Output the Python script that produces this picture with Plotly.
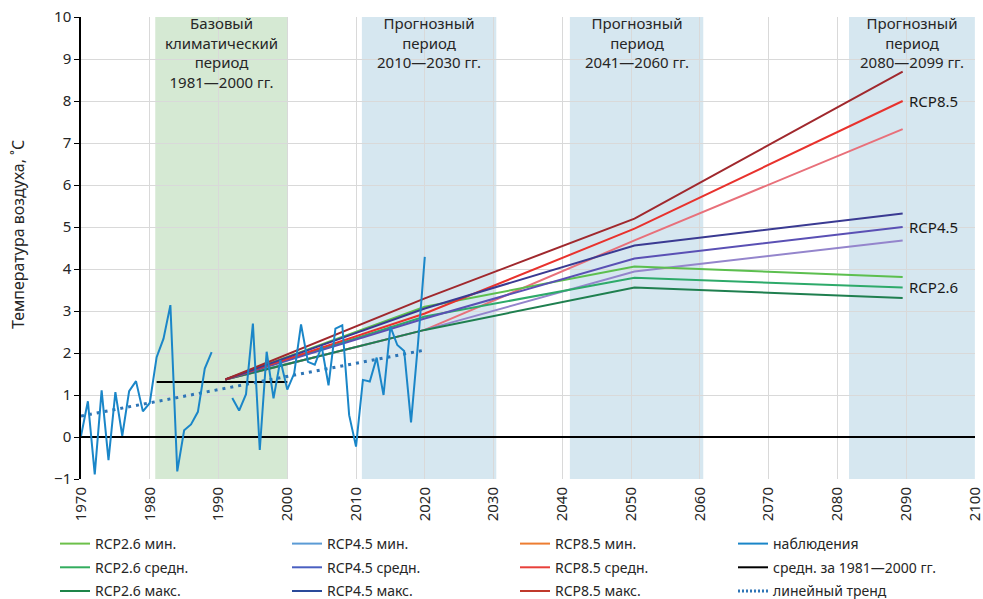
import plotly.graph_objects as go

# ---------------- data ----------------
obs_years = list(range(1970, 2021))
obs_values = [0.02, 0.85, -0.89, 1.11, -0.55, 1.07, 0.03, 1.09, 1.33, 0.61,
              0.81, 1.90, 2.34, 3.14, -0.82, 0.16, 0.30, 0.60, 1.63, 2.02,
              None, None, 0.93, 0.63, 1.02, 2.70, -0.31, 2.03, 0.92, 1.83,
              1.13, 1.51, 2.68, 1.79, 1.72, 2.16, 1.23, 2.58, 2.66, 0.52,
              -0.23, 1.36, 1.32, 1.89, 1.00, 2.63, 2.19, 2.05, 0.35, 2.20,
              4.29]

base_years = [1981, 2000]
base_values = [1.31, 1.31]

trend_years = [1970, 2020]
trend_values = [0.50, 2.07]

scen_years = [1991, 2020, 2050.5, 2089.5]
rcp26_min = [1.37, 3.10, 4.06, 3.81]
rcp26_mean = [1.37, 2.87, 3.79, 3.56]
rcp26_max = [1.37, 2.55, 3.56, 3.31]
rcp45_min = [1.37, 2.55, 3.94, 4.68]
rcp45_mean = [1.37, 2.82, 4.25, 5.00]
rcp45_max = [1.37, 3.06, 4.56, 5.32]
rcp85_min = [1.37, 2.55, 4.68, 7.33]
rcp85_mean = [1.37, 2.94, 4.96, 8.00]
rcp85_max = [1.37, 3.30, 5.20, 8.70]

periods = [
    ("Базовый<br>климатический<br>период<br>1981—2000 гг.", 1980.8, 2000.1, "#d5e9d3"),
    ("Прогнозный<br>период<br>2010—2030 гг.", 2010.85, 2030.4, "#d6e7f0"),
    ("Прогнозный<br>период<br>2041—2060 гг.", 2041.1, 2060.5, "#d6e7f0"),
    ("Прогнозный<br>период<br>2080—2099 гг.", 2081.7, 2100, "#d6e7f0"),
]

x_ticks = list(range(1970, 2101, 10))
y_ticks = list(range(-1, 11))

FONT = "Noto Sans"
TXT = "#262626"

# (name, values, line colour in chart, legend colour)
scenarios = [
    ("RCP2.6 мин.", rcp26_min, "#5cbf4e", "#6cc04a"),
    ("RCP2.6 средн.", rcp26_mean, "#2eaa6a", "#33ad5e"),
    ("RCP2.6 макс.", rcp26_max, "#1f7f4f", "#1e8449"),
    ("RCP4.5 мин.", rcp45_min, "#9485cc", "#5b9bd5"),
    ("RCP4.5 средн.", rcp45_mean, "#5a50b4", "#4a5fc1"),
    ("RCP4.5 макс.", rcp45_max, "#3a3a92", "#2a4a9a"),
    ("RCP8.5 мин.", rcp85_min, "#e8707a", "#ed7d31"),
    ("RCP8.5 средн.", rcp85_mean, "#e8322d", "#e8403a"),
    ("RCP8.5 макс.", rcp85_max, "#a0282d", "#c0392b"),
]

fig = go.Figure()

draw_order = [6, 3, 2, 1, 0, 4, 7, 5, 8]
for i in draw_order:
    name, vals, col, _ = scenarios[i]
    fig.add_trace(go.Scatter(x=scen_years, y=vals, mode="lines", name=name,
                             line=dict(color=col, width=2), showlegend=False))

fig.add_trace(go.Scatter(x=base_years, y=base_values, mode="lines",
                         line=dict(color="black", width=2), showlegend=False))
fig.add_trace(go.Scatter(x=trend_years, y=trend_values, mode="lines",
                         line=dict(color="#2e75b6", width=3, dash="3px,5px"),
                         showlegend=False))
fig.add_trace(go.Scatter(x=obs_years, y=obs_values, mode="lines",
                         line=dict(color="#1a86c8", width=2), showlegend=False,
                         connectgaps=False))

# legend: four columns, each its own legend
legend_items = {s[0]: dict(color=s[3], width=2) for s in scenarios}
legend_items["наблюдения"] = dict(color="#1a86c8", width=2)
legend_items["средн. за 1981—2000 гг."] = dict(color="black", width=2)
legend_items["линейный тренд"] = dict(color="#2e75b6", width=3, dash="2px,2px")
legend_columns = [
    ["RCP2.6 мин.", "RCP2.6 средн.", "RCP2.6 макс."],
    ["RCP4.5 мин.", "RCP4.5 средн.", "RCP4.5 макс."],
    ["RCP8.5 мин.", "RCP8.5 средн.", "RCP8.5 макс."],
    ["наблюдения", "средн. за 1981—2000 гг.", "линейный тренд"],
]
legend_names = ["legend", "legend2", "legend3", "legend4"]
legend_x = [55, 287, 515, 733]
for col_items, lname in zip(legend_columns, legend_names):
    for nm in col_items:
        fig.add_trace(go.Scatter(x=[None], y=[None], mode="lines", name=nm,
                                 legendgroup=nm, line=legend_items[nm],
                                 showlegend=True, legend=lname))

shapes = []
annotations = []
for text, x0, x1, col in periods:
    shapes.append(dict(type="rect", xref="x", yref="y", x0=x0, x1=x1, y0=-1, y1=10,
                       fillcolor=col, line=dict(width=0), layer="below"))
    annotations.append(dict(x=(x0 + x1) / 2, y=1.012, xref="x", yref="paper", text=text,
                            showarrow=False, yanchor="top", xanchor="center",
                            font=dict(family=FONT, size=15, color=TXT)))

for label, yv in [("RCP8.5", rcp85_mean[-1]), ("RCP4.5", rcp45_mean[-1]), ("RCP2.6", rcp26_mean[-1])]:
    annotations.append(dict(x=scen_years[-1] + 0.6, y=yv, xref="x", yref="y", text=label,
                            showarrow=False, xanchor="left", yanchor="middle",
                            font=dict(family=FONT, size=15, color="#1a1a1a")))

# y-axis title
annotations.append(dict(x=(18 - 81) / 894, y=(479 - 235) / 462, xref="paper", yref="paper",
                        text="Температура воздуха, ˚C", textangle=-90, showarrow=False,
                        xanchor="center", yanchor="middle",
                        font=dict(family=FONT, size=16, color=TXT)))

layout_legends = {}
for lname, lx in zip(legend_names, legend_x):
    layout_legends[lname] = dict(orientation="v", xref="container", yref="container",
                                 x=lx / 983, y=1 - 528 / 599, xanchor="left", yanchor="top",
                                 traceorder="grouped", tracegroupgap=2.5,
                                 bgcolor="rgba(0,0,0,0)",
                                 font=dict(family=FONT, size=14, color=TXT))

fig.update_layout(
    width=983, height=599,
    margin=dict(l=81, r=8, t=17, b=120, autoexpand=False),
    paper_bgcolor="white", plot_bgcolor="white",
    font=dict(family=FONT, size=14, color=TXT),
    shapes=shapes, annotations=annotations,
    xaxis=dict(range=[1970, 2100.02], tickvals=x_ticks, ticktext=[str(v) for v in x_ticks],
               tickangle=-90, showgrid=True, gridcolor="#d9d9d9", gridwidth=1,
               zeroline=False, showline=False, ticks="", automargin=False,
               ticklabelstandoff=4, ticklabeloverflow="allow",
               tickfont=dict(family=FONT, size=15, color=TXT)),
    xaxis2=dict(range=[1970, 2100.02], tickvals=x_ticks, overlaying="x", anchor="free",
                position=1 / 11, side="bottom", showticklabels=False, ticks="outside",
                ticklen=5, tickcolor="black", showgrid=False, zeroline=False,
                showline=False, automargin=False),
    yaxis=dict(range=[-1, 10], tickvals=y_ticks, showgrid=True, gridcolor="#d9d9d9",
               zeroline=True, zerolinecolor="black", zerolinewidth=1.5,
               showline=True, linecolor="black", linewidth=1.5, ticks="outside",
               ticklen=5, tickcolor="black", automargin=False,
               tickfont=dict(family=FONT, size=15, color=TXT)),
    showlegend=True,
    **layout_legends,
)

fig.write_html("out.html", config={"displayModeBar": False},
               post_script="document.body.style.margin='0px';")
